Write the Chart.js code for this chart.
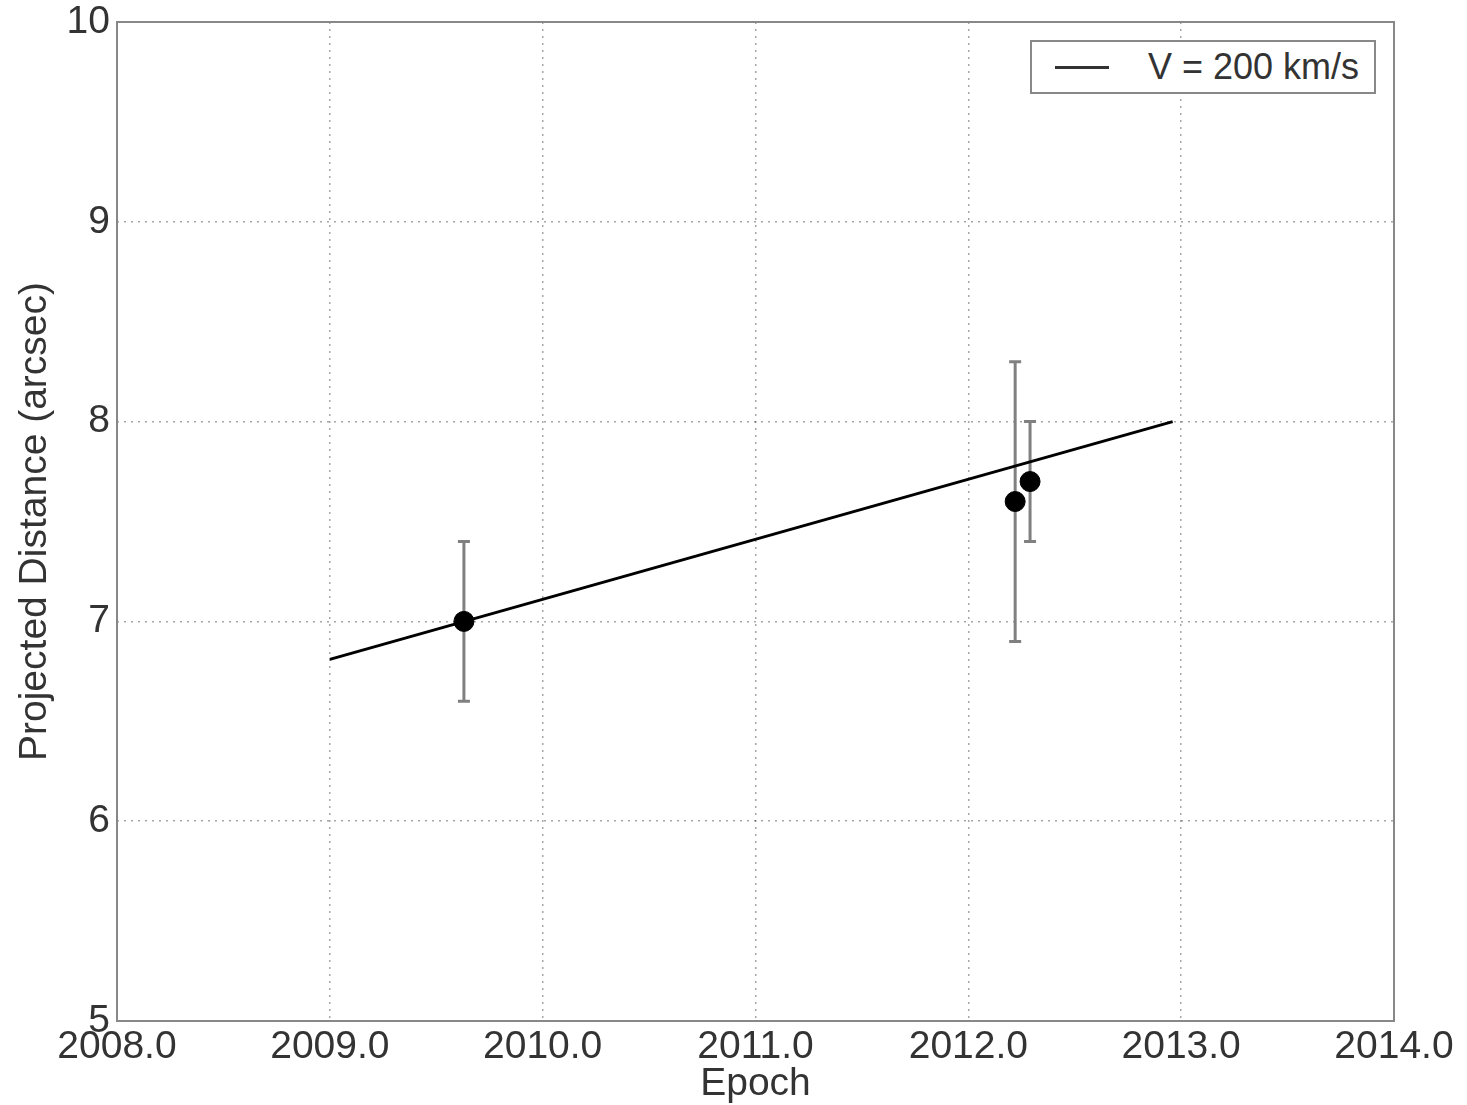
<!DOCTYPE html>
<html lang="en">
<head>
    <meta charset="UTF-8">
    <title>Projected Distance vs Epoch</title>
    <script src="https://cdn.jsdelivr.net/npm/chart.js@4.4.1/dist/chart.umd.min.js"></script>
    <style>
        body {
            margin: 0;
            background: #fff;
            font-family: 'Liberation Sans', Arial, sans-serif;
        }
        .wrap {
            position: relative;
            width: 1467px;
            height: 1105px;
        }
        .legend {
            position: absolute;
            left: 1030px;
            top: 40px;
            width: 342px;
            height: 50px;
            border: 2px solid #888;
            background: #fff;
        }
        .legend-line {
            position: absolute;
            left: 23px;
            top: 24px;
            width: 54px;
            height: 3px;
            background: #333;
        }
        .legend-text {
            position: absolute;
            left: 116px;
            top: 4px;
            font-size: 36px;
            line-height: 42px;
            color: #333;
            white-space: nowrap;
        }
    </style>
</head>
<body>
<div class="wrap">
    <canvas id="chart" width="1467" height="1105"></canvas>
    <div class="legend">
        <div class="legend-line"></div>
        <div class="legend-text">V = 200 km/s</div>
    </div>
</div>

<script>
    // measured epochs and distances
    const epochs = [2009.63, 2012.22, 2012.29];
    const distances = [7.0, 7.6, 7.7];
    const errLow = [6.6, 6.9, 7.4];
    const errHigh = [7.4, 8.3, 8.0];

    // V = 200 km/s model line
    const fitEpochs = [2009.0, 2012.96];
    const fitDistances = [6.81, 8.0];

    const xTicks = [2008, 2009, 2010, 2011, 2012, 2013, 2014];
    const yTicks = [5, 6, 7, 8, 9, 10];

    const textColor = '#333';
    const fontFamily = "'Liberation Sans', Arial, sans-serif";
    const xTickFont = { family: fontFamily, size: 39, lineHeight: 1.0 };
    const yTickFont = { family: fontFamily, size: 39, lineHeight: 0.75 };
    const titleFont = { family: fontFamily, size: 39, lineHeight: 1.2 };

    // error bars, drawn under the markers
    const errorBars = {
        id: 'errorBars',
        beforeDatasetsDraw(chart) {
            const ctx = chart.ctx;
            const xs = chart.scales.x, ys = chart.scales.y;
            ctx.save();
            ctx.strokeStyle = '#808080';
            ctx.lineWidth = 3;
            epochs.forEach((e, i) => {
                const px = xs.getPixelForValue(e);
                const top = ys.getPixelForValue(errHigh[i]);
                const bot = ys.getPixelForValue(errLow[i]);
                ctx.beginPath();
                ctx.moveTo(px, top); ctx.lineTo(px, bot);
                ctx.moveTo(px - 6, top); ctx.lineTo(px + 6, top);
                ctx.moveTo(px - 6, bot); ctx.lineTo(px + 6, bot);
                ctx.stroke();
            });
            ctx.restore();
        }
    };

    // box round the plot area
    const frame = {
        id: 'frame',
        afterDraw(chart) {
            const a = chart.chartArea;
            const ctx = chart.ctx;
            ctx.save();
            ctx.strokeStyle = '#888';
            ctx.lineWidth = 2;
            ctx.strokeRect(a.left, a.top, a.right - a.left, a.bottom - a.top);
            ctx.restore();
        }
    };

    const whiteBg = {
        id: 'whiteBg',
        beforeDraw(chart) {
            const ctx = chart.ctx;
            ctx.save();
            ctx.fillStyle = '#fff';
            ctx.fillRect(0, 0, chart.width, chart.height);
            ctx.restore();
        }
    };

    new Chart(document.getElementById('chart'), {
        type: 'scatter',
        data: {
            datasets: [
                {
                    label: 'data',
                    data: epochs.map((e, i) => ({ x: e, y: distances[i] })),
                    backgroundColor: '#000',
                    borderColor: '#000',
                    pointRadius: 10,
                    pointHoverRadius: 10,
                    showLine: false
                },
                {
                    label: 'V = 200 km/s',
                    data: fitEpochs.map((e, i) => ({ x: e, y: fitDistances[i] })),
                    borderColor: '#000',
                    borderWidth: 3,
                    pointRadius: 0,
                    showLine: true,
                    fill: false
                }
            ]
        },
        options: {
            responsive: false,
            animation: false,
            layout: { padding: { top: 22, right: 73, bottom: 0, left: 0 } },
            plugins: {
                legend: { display: false },
                tooltip: { enabled: false }
            },
            scales: {
                x: {
                    type: 'linear',
                    min: 2008,
                    max: 2014,
                    afterBuildTicks: (s) => { s.ticks = xTicks.map(v => ({ value: v })); },
                    afterFit: (s) => { s.height = 84; },
                    ticks: {
                        autoSkip: false,
                        maxRotation: 0,
                        padding: 7,
                        color: textColor,
                        font: xTickFont,
                        callback: (v) => v.toFixed(1)
                    },
                    grid: {
                        drawTicks: false,
                        color: 'rgba(0,0,0,0.35)',
                        lineWidth: 1.5
                    },
                    border: { display: false, dash: [2, 5] },
                    title: {
                        display: true,
                        text: 'Epoch',
                        color: textColor,
                        font: titleFont,
                        padding: { top: 0, bottom: -3 }
                    }
                },
                y: {
                    min: 5,
                    max: 10,
                    afterBuildTicks: (s) => { s.ticks = yTicks.map(v => ({ value: v })); },
                    afterFit: (s) => { s.width = 117; },
                    ticks: {
                        padding: 7,
                        color: textColor,
                        font: yTickFont
                    },
                    grid: {
                        drawTicks: false,
                        color: 'rgba(0,0,0,0.35)',
                        lineWidth: 1.5
                    },
                    border: { display: false, dash: [2, 5] },
                    title: {
                        display: true,
                        text: 'Projected Distance (arcsec)',
                        color: textColor,
                        font: titleFont,
                        padding: { top: 12, bottom: 0 }
                    }
                }
            }
        },
        plugins: [whiteBg, errorBars, frame]
    });
</script>
</body>
</html>
